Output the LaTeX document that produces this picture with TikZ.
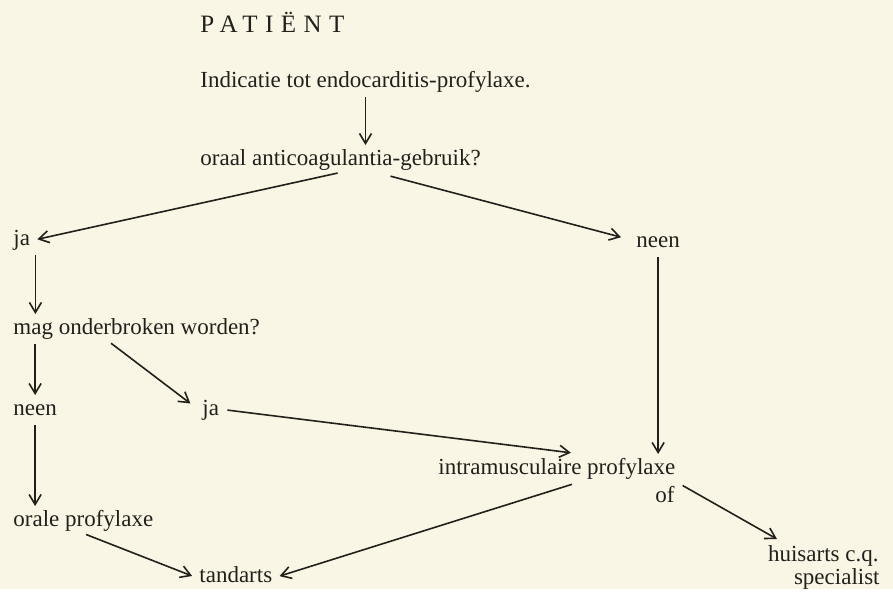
\documentclass[tikz,border=0pt]{standalone}
\usepackage{fontspec}
\setmainfont{Liberation Serif}
\newfontfamily\spacedfont[LetterSpace=30]{Liberation Serif}
\usetikzlibrary{arrows.meta,calc}
\definecolor{paper}{RGB}{249,246,229}
\definecolor{ink}{RGB}{35,32,28}

\begin{document}
\begin{tikzpicture}[x=0.5pt,y=-0.5pt]
        \tikzstyle{txt}=[anchor=base west,inner xsep=2.5pt,inner ysep=1pt,text height=7.8pt,text depth=2.5pt,text=ink,font=\fontsize{11.5}{13}\selectfont]
        \tikzstyle{link}=[draw=ink,line width=0.8pt,shorten <=1.5pt,shorten >=1pt,-{Straight Barb[length=5pt,width=6pt]}]
        \fill[paper] (0,0) rectangle (893,589);
        \node [txt] (patient) at (195,32) {\spacedfont\fontsize{12.5}{14}\selectfont PATIËNT};
        \node [txt] (indic) at (195,87) {Indicatie tot endocarditis-profylaxe.};
        \node [txt] (oraal) at (195,165) {oraal anticoagulantia-gebruik?};
        \node [txt] (ja1) at (8,245) {ja};
        \node [txt] (neen1) at (631,247) {neen};
        \node [txt] (mag) at (8,334) {mag onderbroken worden?};
        \node [txt] (neen2) at (8,415) {neen};
        \node [txt] (ja2) at (197,415) {ja};
        \node [txt] (intra) at (433,474) {intramusculaire profylaxe};
        \node [txt,anchor=base east] (of) at (680,502) {of};
        \node [txt] (orale) at (8,526) {orale profylaxe};
        \node [txt] (tand) at (194,582) {tandarts};
        \node [txt,anchor=base east] (huis) at (884,561) {huisarts c.q.};
        \node [txt,anchor=base east] (spec) at (885,584) {specialist};
        \path (indic.south) edge [link] (indic.south |- oraal.north);
        \path (oraal.south) edge [link] (ja1.east);
        \path ($(oraal.south)+(47,3)$) edge [link] ($(neen1.west)+(-8,-4)$);
        \path (ja1.south east) edge [link] (ja1.south east |- mag.north);
        \path (neen2.north |- mag.south) edge [link] (neen2.north);
        \path ($(mag.south)+(-28,0)$) edge [link] ($(ja2.west)+(-5,-5)$);
        \path (ja2.east) edge [link] ($(intra.north)+(16,-3)$);
        \path (neen1.south) edge [link] (neen1.south |- intra.north);
        \path (neen2.south) edge [link] (neen2.south |- orale.north);
        \path (orale.south) edge [link] (tand.west);
        \path ($(intra.south)+(18,2)$) edge [link] (tand.east);
        \path (of.north east) edge [link] ($(huis.north west)+(16,-3)$);
\end{tikzpicture}
\end{document}
